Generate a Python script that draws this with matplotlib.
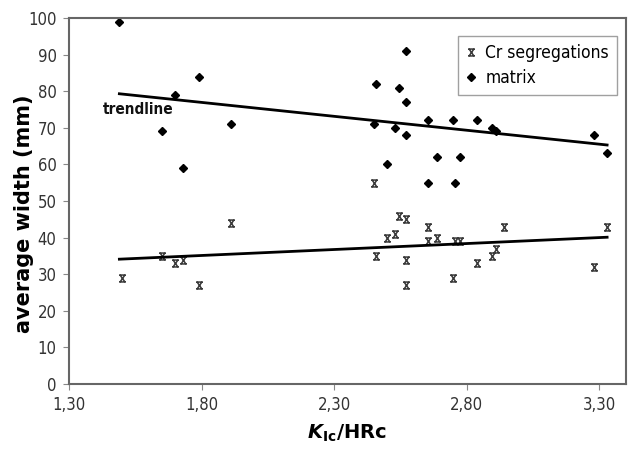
import numpy as np
import matplotlib
matplotlib.use("Agg")
import matplotlib.pyplot as plt
from matplotlib.path import Path

# matrix (diamonds)
matrix_x = [1.49, 1.65, 1.70, 1.73, 1.79, 1.91, 2.45, 2.46, 2.50, 2.53, 2.545,
            2.57, 2.57, 2.57, 2.655, 2.655, 2.69, 2.75, 2.755, 2.775, 2.84,
            2.895, 2.91, 3.28, 3.33]
matrix_y = [99, 69, 79, 59, 84, 71, 71, 82, 60, 70, 81,
            91, 77, 68, 72, 55, 62, 72, 55, 62, 72,
            70, 69, 68, 63]

# Cr segregations (x markers)
cr_x = [1.50, 1.65, 1.70, 1.73, 1.79, 1.91, 2.45, 2.46, 2.50, 2.53, 2.545,
        2.57, 2.57, 2.57, 2.655, 2.655, 2.69, 2.75, 2.755, 2.775, 2.84,
        2.895, 2.91, 2.94, 3.28, 3.33]
cr_y = [29, 35, 33, 34, 27, 44, 55, 35, 40, 41, 46,
        45, 34, 27, 43, 39, 40, 29, 39, 39, 33,
        35, 37, 43, 32, 43]

# trendline ends
trend_x = [1.49, 3.33]
trend_matrix = [79.3, 65.3]
trend_cr = [34.1, 40.1]

xticks = [1.30, 1.80, 2.30, 2.80, 3.30]
xtick_labels = ["1,30", "1,80", "2,30", "2,80", "3,30"]
yticks = list(range(0, 101, 10))

# x with bars on top and bottom, like the excel marker
xbar = Path([(-1, 1), (1, 1), (-0.7, 1), (0.7, -1), (0.7, 1), (-0.7, -1),
             (-1, -1), (1, -1)],
            [Path.MOVETO, Path.LINETO, Path.MOVETO, Path.LINETO,
             Path.MOVETO, Path.LINETO, Path.MOVETO, Path.LINETO])

fig = plt.figure(figsize=(6.29, 4.5), dpi=100)
ax = fig.add_axes([0.1097, 0.1467, 0.885, 0.8133])

ax.plot(cr_x, cr_y, linestyle="none", marker=xbar, ms=5, mew=1.1,
        color="#3a3a3a", label="Cr segregations")
ax.plot(matrix_x, matrix_y, linestyle="none", marker="D", ms=3.8,
        color="black", label="matrix")

ax.plot(trend_x, trend_matrix, color="black", lw=2)
ax.plot(trend_x, trend_cr, color="black", lw=2)

ax.text(1.428, 75, "trendline", fontsize=11, fontweight="bold",
        fontstretch="condensed", ha="left", va="center", color="#111111")

ax.set_xlim(1.3, 3.4)
ax.set_ylim(0, 100)
ax.set_xticks(xticks)
ax.set_xticklabels(xtick_labels)
ax.set_yticks(yticks)
ax.tick_params(direction="out", length=4, color="#888888", labelcolor="#333333",
               labelsize=12, pad=5)
for lab in ax.get_xticklabels() + ax.get_yticklabels():
    lab.set_fontstretch("condensed")
for s in ax.spines.values():
    s.set_color("#666666")
    s.set_linewidth(1.5)

ax.set_ylabel("average width (mm)", fontsize=15, fontweight="bold")
ax.yaxis.set_label_coords(-0.063, 0.466)
ax.set_xlabel(r"$\mathbfit{K}_{\mathbf{Ic}}$/HRc", fontsize=14, fontweight="bold",
              labelpad=6)

leg = ax.legend(loc="upper right", bbox_to_anchor=(0.984, 0.951),
                prop={"stretch": "condensed", "size": 12.5},
                frameon=True, fancybox=False, edgecolor="#888888",
                borderaxespad=0, handlelength=0.6, handletextpad=0.5,
                borderpad=0.45, labelspacing=0.4)
leg.get_frame().set_linewidth(1)

fig.savefig("out.png", dpi=100)
